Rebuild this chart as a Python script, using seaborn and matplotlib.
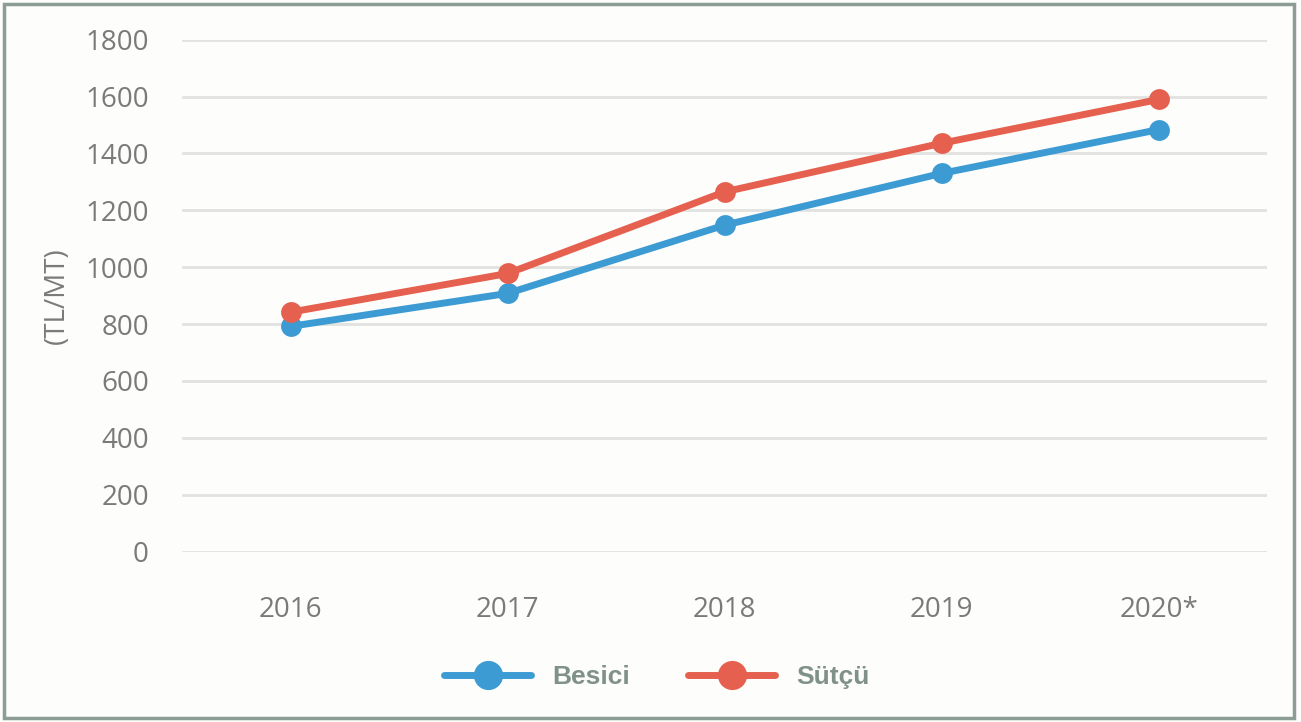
import pandas as pd
import seaborn as sns
import matplotlib.pyplot as plt
from matplotlib.patches import Rectangle

years = ['2016', '2017', '2018', '2019', '2020*']
besici = [792, 908, 1148, 1330, 1484]
sutcu = [842, 978, 1265, 1436, 1590]
series_names = ['Besici', 'Sütçü']
colors = {'Besici': '#3d9bd4', 'Sütçü': '#e6604f'}

df = pd.DataFrame({
    'year': years * 2,
    'value': besici + sutcu,
    'series': [series_names[0]] * len(years) + [series_names[1]] * len(years),
})

sns.set_theme(style='white')
plt.rcParams['font.family'] = ['Open Sans', 'DejaVu Sans']

fig = plt.figure(figsize=(13.01, 7.22), dpi=100, facecolor='#fdfdfb')
ax = fig.add_axes([0.14, 0.236, 0.834, 0.709])
ax.set_facecolor('#fdfdfb')

sns.lineplot(data=df, x='year', y='value', hue='series', palette=colors,
             marker='o', markersize=15, markeredgewidth=0, linewidth=5,
             ax=ax, legend=False)

ax.set_ylim(0, 1800)
ax.set_xlim(-0.5, len(years) - 0.5)
ax.set_yticks(range(0, 1801, 200))
ax.yaxis.grid(True, color='#e2e2e0', linewidth=2)
ax.set_axisbelow(True)
for s in ax.spines.values():
    s.set_visible(False)
ax.tick_params(axis='both', length=0, labelsize=20, labelcolor='#7a7a7a')
ax.tick_params(axis='x', pad=32)
ax.tick_params(axis='y', pad=24)
ax.set_xlabel('')
ax.set_ylabel('(TL/MT)', fontsize=20, color='#7a7a7a', labelpad=10)

handles = [plt.Line2D([], [], color=colors[n], marker='o', markersize=21,
                      linewidth=5, markeredgewidth=0) for n in series_names]
leg = fig.legend(handles, series_names, loc='center', bbox_to_anchor=(0.505, 0.062),
                 ncol=2, frameon=False, handlelength=3.3, columnspacing=2.2,
                 prop={'family': 'Liberation Sans', 'weight': 'bold', 'size': 19})
for t in leg.get_texts():
    t.set_color('#7f918a')

fig.patches.append(Rectangle((0.003, 0.006), 0.992, 0.988, transform=fig.transFigure,
                             fill=False, edgecolor='#8c9c96', linewidth=2.5))

fig.savefig('out.png', dpi=100, facecolor=fig.get_facecolor())
